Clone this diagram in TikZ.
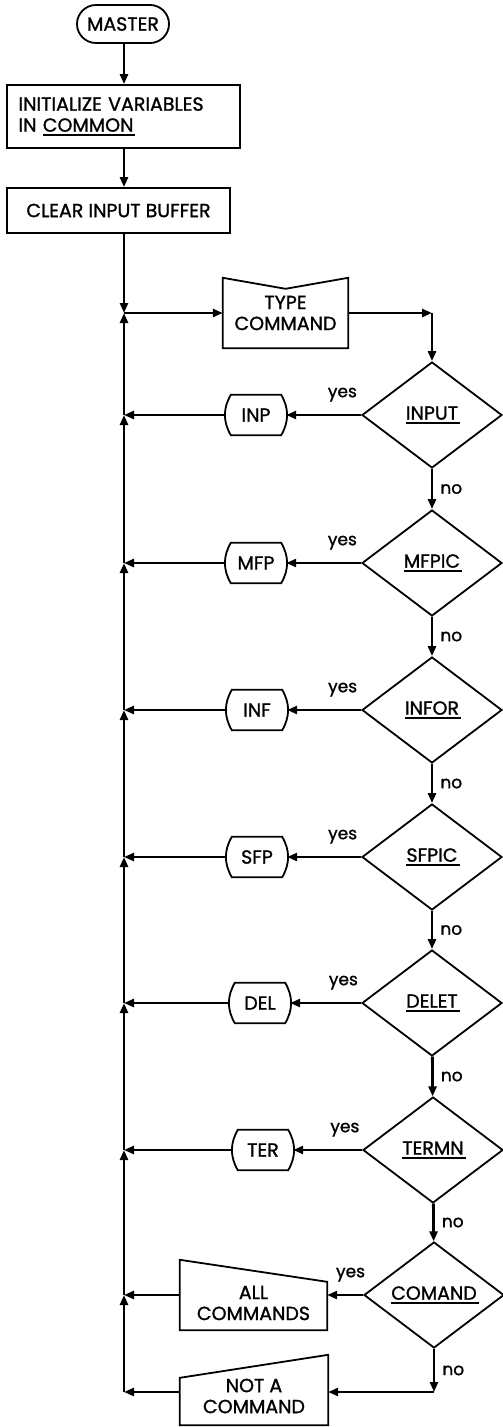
\documentclass[tikz,border=0pt]{standalone}
\usepackage{fontspec}
\setmainfont{Poppins}[FakeBold=1.2]
\usetikzlibrary{shapes.geometric,arrows.meta}
\newcommand{\undl}[1]{\setbox0\hbox{#1}\rlap{\rule[-4pt]{\dimexpr\wd0+2pt\relax}{1.8pt}}\box0}

\begin{document}
\begin{tikzpicture}[x=1pt, y=-1pt,
            font=\fontsize{19}{21}\selectfont,
            box/.style={draw, line width=1.8pt, minimum height=45pt, inner sep=0pt},
            test/.style={diamond, draw, line width=1.8pt, aspect=1.4, minimum width=140pt, minimum height=106pt, inner sep=0pt},
            sub/.style={minimum width=60pt, minimum height=40pt, inner sep=0pt},
            outline/.style={line width=1.8pt},
            flow/.style={line width=2.8pt, -{Triangle[length=10pt,width=8pt]}},
            yn/.style={font=\fontsize{17}{19}\selectfont, inner sep=1pt}
        ]
            \useasboundingbox (0,0) rectangle (503,1427);

            \node[box, rounded corners=19pt, minimum width=92pt, minimum height=38pt] (master) at (123,24) {MASTER};
            \node[box, minimum width=233pt, minimum height=63pt, text width=210pt, align=left] (init) at (123.5,116.5) {INITIALIZE VARIABLES\\IN \undl{COMMON}};
            \node[box, minimum width=223pt] (clear) at (118.5,210.5) {CLEAR INPUT BUFFER};
            \node[minimum width=125pt, minimum height=70pt, inner sep=0pt, align=center] (type) at (285.5,313) {TYPE\\COMMAND};

            \node[test] (input) at (432,415) {\undl{INPUT}};
            \node[test] (mfpic) at (432,563) {\undl{MFPIC}};
            \node[test] (infor) at (432,710) {\undl{INFOR}};
            \node[test] (sfpic) at (432,857) {\undl{SFPIC}};
            \node[test] (delet) at (432,1003) {\undl{DELET}};
            \node[test] (termn) at (433,1150) {\undl{TERMN}};
            \node[test] (comand) at (434,1295) {\undl{COMAND}};

            \node[sub] (inp) at (256,415) {INP};
            \node[sub] (mfp) at (256,563) {MFP};
            \node[sub] (inf) at (257,710) {INF};
            \node[sub] (sfp) at (257,857) {SFP};
            \node[sub] (del) at (260,1003) {DEL};
            \node[sub] (ter) at (263,1150) {TER};
            \node[minimum width=147pt, minimum height=54pt, inner sep=0pt, align=center] (allc) at (253.5,1303) {ALL\\COMMANDS};
            \node[minimum width=148pt, minimum height=58pt, inner sep=0pt, align=center] (notc) at (254,1396) {NOT A\\COMMAND};

            \draw[outline] (type.south west) -- (type.north west) -- ([yshift=-11pt]type.north) -- (type.north east) -- (type.south east) -- cycle;
            \draw[outline] (allc.south west) -- ([yshift=16pt]allc.north west) -- ([yshift=-6pt]allc.north east) -- (allc.south east) -- cycle;
            \draw[outline] (notc.south west) -- ([yshift=-11pt]notc.north west) -- ([yshift=12pt]notc.north east) -- (notc.south east) -- cycle;
            \foreach \s in {inp,mfp,inf,sfp,del,ter}
                \draw[outline] ([xshift=5pt]\s.north west) -- ([xshift=-5pt]\s.north east) to[bend left=30] ([xshift=-5pt]\s.south east) -- ([xshift=5pt]\s.south west) to[bend left=30] ([xshift=5pt]\s.north west) -- cycle;

            \coordinate (j0) at (124,313);
            \coordinate (j1) at (124,415);
            \coordinate (j2) at (124,563);
            \coordinate (j3) at (124,710);
            \coordinate (j4) at (124,857);
            \coordinate (j5) at (124,1003);
            \coordinate (j6) at (124,1150);
            \coordinate (j7) at (124,1295);
            \coordinate (j8) at (124,1392);
            \coordinate (c0) at (432,313);
            \coordinate (c8) at (434,1392);

            \draw[flow] (master.south -| j0) -- (j0 |- init.north);
            \draw[flow] (init.south -| j0) -- (j0 |- clear.north);
            \draw[flow] (clear.south -| j0) -- (j0);
            \draw[flow] (j0) -- (type);
            \draw[flow] (type) -- (c0);
            \draw[flow] (c0) -- (input);

            \draw[flow] (input) -- node[yn, above=11pt, pos=0.25] {yes} (inp);
            \draw[flow] (mfpic) -- node[yn, above=11pt, pos=0.25] {yes} (mfp);
            \draw[flow] (infor) -- node[yn, above=11pt, pos=0.25] {yes} (inf);
            \draw[flow] (sfpic) -- node[yn, above=11pt, pos=0.25] {yes} (sfp);
            \draw[flow] (delet) -- node[yn, above=11pt, pos=0.25] {yes} (del);
            \draw[flow] (termn) -- node[yn, above=11pt, pos=0.25] {yes} (ter);
            \draw[flow] (comand) -- node[yn, above=11pt, pos=0.35] {yes} (comand -| allc.east);

            \draw[flow] (input) -- node[yn, right=6pt] {no} (mfpic);
            \draw[flow] (mfpic) -- node[yn, right=6pt] {no} (infor);
            \draw[flow] (infor) -- node[yn, right=6pt] {no} (sfpic);
            \draw[flow] (sfpic) -- node[yn, right=6pt] {no} (delet);
            \draw[flow] (delet) -- node[yn, right=6pt] {no} (termn);
            \draw[flow] (termn) -- node[yn, right=6pt] {no} (comand);
            \draw[flow] (comand) -- node[yn, right=6pt] {no} (c8);
            \draw[flow] (c8) -- (notc.east |- c8);

            \draw[flow] (inp) -- (j1);
            \draw[flow] (mfp) -- (j2);
            \draw[flow] (inf) -- (j3);
            \draw[flow] (sfp) -- (j4);
            \draw[flow] (del) -- (j5);
            \draw[flow] (ter) -- (j6);
            \draw[flow] (allc.west |- comand) -- (j7);
            \draw[flow] (notc.west |- c8) -- (j8);

            \draw[flow] (j8) -- (j7);
            \draw[flow] (j7) -- (j6);
            \draw[flow] (j6) -- (j5);
            \draw[flow] (j5) -- (j4);
            \draw[flow] (j4) -- (j3);
            \draw[flow] (j3) -- (j2);
            \draw[flow] (j2) -- (j1);
            \draw[flow] (j1) -- (j0);

        \end{tikzpicture}
\end{document}
